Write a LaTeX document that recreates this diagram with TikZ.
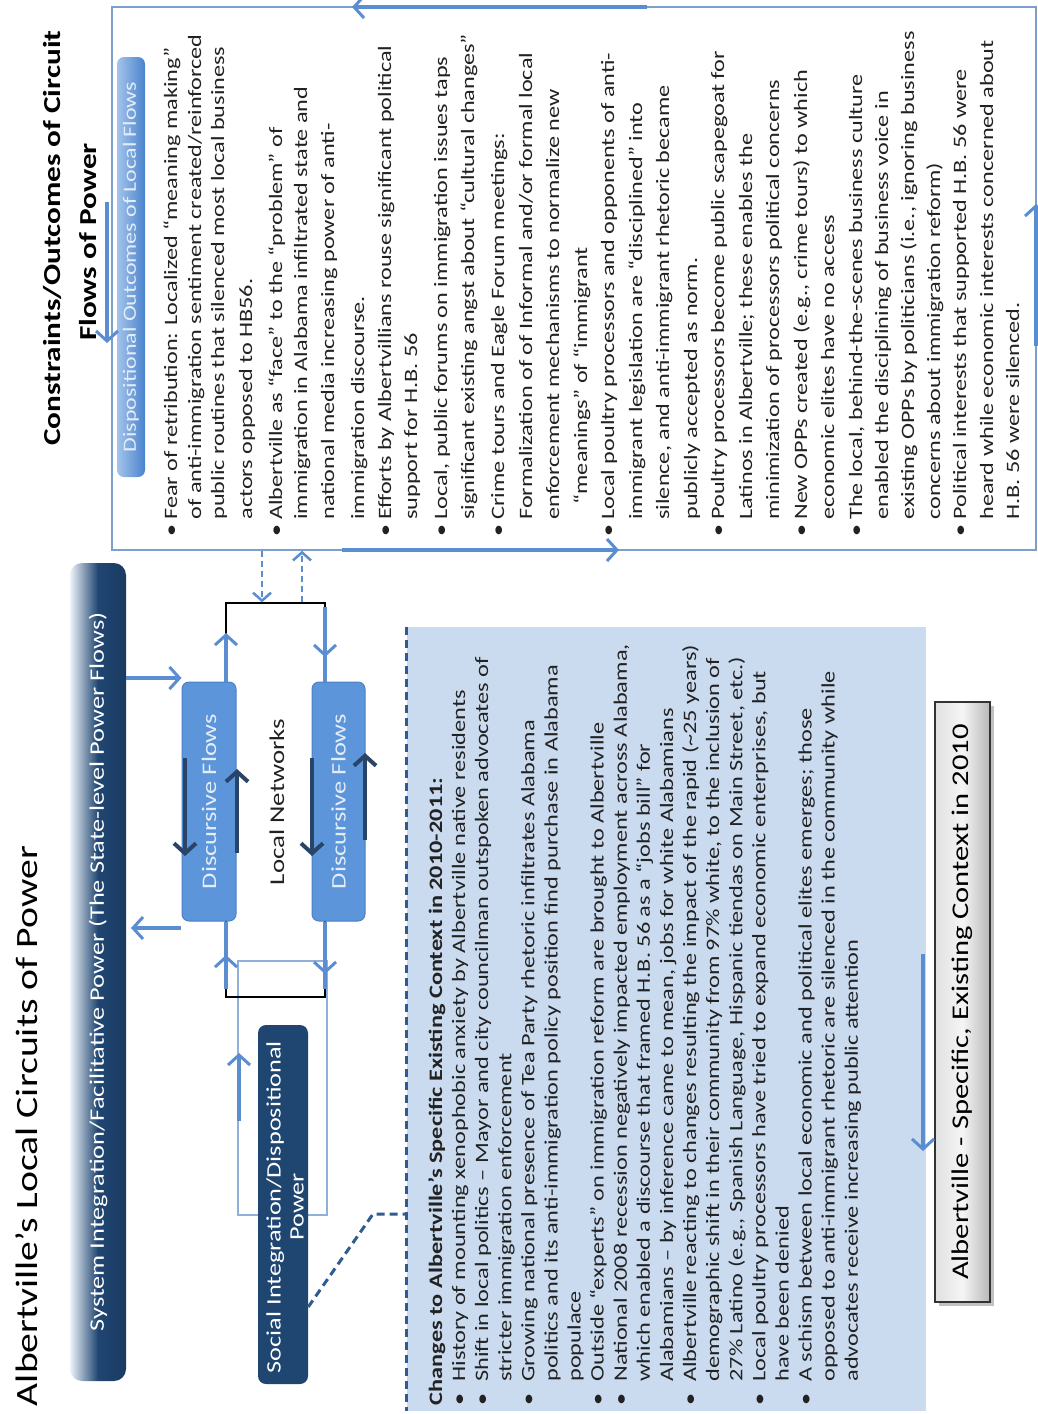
\documentclass[tikz,border=0pt]{standalone}
\usepackage{fontspec}
\setmainfont{Carlito}[FakeStretch=1.28]
\usetikzlibrary{arrows.meta}
\definecolor{flowblue}{HTML}{5B8ED1}
\definecolor{navyarrow}{HTML}{2A4468}
\definecolor{navy}{HTML}{1F4671}
\definecolor{navydark}{HTML}{1A3A62}
\definecolor{barlight}{HTML}{EEF3F9}
\definecolor{boxblue}{HTML}{CADBF0}
\definecolor{dashnavy}{HTML}{2F5C8F}
\definecolor{boxline}{HTML}{7C9FCC}
\definecolor{dffill}{HTML}{5C95D9}
\definecolor{dfdraw}{HTML}{4C81C6}
\definecolor{dftext}{HTML}{E3EDFA}
\definecolor{textdark}{HTML}{222222}
\definecolor{thinline}{HTML}{8FB0D8}
\definecolor{dispL}{HTML}{A4C3EB}
\definecolor{dispR}{HTML}{4A83CC}
\newcommand\RBul{\makebox[0.87em][l]{•}}
\newcommand\RInd{\hspace*{0.87em}}
\newcommand\LBul{\makebox[1.23em][l]{•}}
\newcommand\LInd{\hspace*{1.23em}}
\tikzset{
  rot/.style={rotate=90, inner sep=0pt, outer sep=0pt},
  rline/.style={rot, anchor=base west, font=\fontsize{18.9}{22}\selectfont, text=textdark},
  lline/.style={rot, anchor=base west, font=\fontsize{19}{22}\selectfont, text=textdark},
  flow/.style={draw=flowblue, line width=3.5pt, -{Straight Barb[length=10pt,width=22pt,line width=3pt]}},
  flowline/.style={draw=flowblue, line width=3.5pt},
  dflow/.style={draw=flowblue, line width=2.5pt, dash pattern=on 6pt off 4pt, -{Straight Barb[length=8pt,width=18pt,line width=2.5pt]}},
  navyflow/.style={draw=navyarrow, line width=4pt, -{Straight Barb[length=10pt,width=22pt,line width=4pt]}},
  navydash/.style={draw=dashnavy, line width=3pt, dash pattern=on 8pt off 5pt},
  dfbox/.style={draw=dfdraw, fill=dffill, line width=1pt, rounded corners=7pt, minimum width=54pt, minimum height=239pt, inner sep=0pt},
  dftxt/.style={rot, text=dftext, font=\fontsize{20.7}{22}\selectfont},
}
\begin{document}
\begin{tikzpicture}[x=1pt,y=-1pt]
\useasboundingbox (0,0) rectangle (1038,1414);
\fill[white] (0,0) rectangle (1038,1414);

% ---------- Constraints / Outcomes box ----------
\node[draw=boxline, line width=1.5pt, minimum width=924pt, minimum height=543pt, inner sep=0pt] (cons) at (574,278.5) {};
\node[rot, anchor=base, font=\bfseries\fontsize{24.4}{26}\selectfont, text=black] (ct1) at (60,238) {Constraints/Outcomes of Circuit};
\node[rot, anchor=base, font=\bfseries\fontsize{24.4}{26}\selectfont, text=black] (ct2) at (96,242) {Flows of Power};
\node[rounded corners=7pt, minimum width=28pt, minimum height=420pt, inner sep=0pt, left color=dispL, right color=dispR] (dispo) at (131,267) {};
\node[rot, text=dftext, font=\fontsize{18.7}{20}\selectfont] (dispoT) at (dispo.center) {Dispositional Outcomes of Local Flows};

% circulation arrows on the box border
\draw[flow] (647,7) -- (352,7);
\draw[flow] (107,202) -- (107,343);
\draw[flow] (342,550) -- (619,550);
\draw[flow] (1036,346) -- (1036,204);

\node[rline] (r1) at (177,536) {\RBul Fear of retribution: Localized “meaning making”};
\node[rline] (r2) at (201,536) {\RInd of anti-immigration sentiment created/reinforced};
\node[rline] (r3) at (224,536) {\RInd public routines that silenced most local business};
\node[rline] (r4) at (252,536) {\RInd actors opposed to HB56.};
\node[rline] (r5) at (282,536) {\RBul Albertville as “face” to the “problem” of};
\node[rline] (r6) at (307,536) {\RInd immigration in Alabama infiltrated state and};
\node[rline] (r7) at (334,536) {\RInd national media increasing power of anti-};
\node[rline] (r8) at (364,536) {\RInd immigration discourse.};
\node[rline] (r9) at (391,536) {\RBul Efforts by Albertvillians rouse significant political};
\node[rline] (r10) at (417,536) {\RInd support for H.B. 56};
\node[rline] (r11) at (447,536) {\RBul Local, public forums on immigration issues taps};
\node[rline] (r12) at (474,536) {\RInd significant existing angst about “cultural changes”};
\node[rline] (r13) at (504,536) {\RBul Crime tours and Eagle Forum meetings:};
\node[rline] (r14) at (532,536) {\RInd Formalization of of Informal and/or formal local};
\node[rline] (r15) at (559,536) {\RInd enforcement mechanisms to normalize new};
\node[rline] (r16) at (587,536) {\RInd\hspace*{0.8em}“meanings” of “immigrant};
\node[rline] (r17) at (614,536) {\RBul Local poultry processors and opponents of anti-};
\node[rline] (r18) at (642,536) {\RInd immigrant legislation are “disciplined” into};
\node[rline] (r19) at (669,536) {\RInd silence, and anti-immigrant rhetoric became};
\node[rline] (r20) at (697,536) {\RInd publicly accepted as norm.};
\node[rline] (r21) at (724,536) {\RBul Poultry processors become public scapegoat for};
\node[rline] (r22) at (752,536) {\RInd Latinos in Albertville; these enables the};
\node[rline] (r23) at (779,536) {\RInd minimization of processors political concerns};
\node[rline] (r24) at (807,536) {\RBul New OPPs created (e.g., crime tours) to which};
\node[rline] (r25) at (834,536) {\RInd economic elites have no access};
\node[rline] (r26) at (862,536) {\RBul The local, behind-the-scenes business culture};
\node[rline] (r27) at (888,536) {\RInd enabled the disciplining of business voice in};
\node[rline] (r28) at (914,536) {\RInd existing OPPs by politicians (i.e., ignoring business};
\node[rline] (r29) at (940,536) {\RInd concerns about immigration reform)};
\node[rline] (r30) at (966,536) {\RBul Political interests that supported H.B. 56 were};
\node[rline] (r31) at (993,536) {\RInd heard while economic interests concerned about};
\node[rline] (r32) at (1019,536) {\RInd H.B. 56 were silenced.};

% ---------- Left part ----------
\node[rot, anchor=base, font=\fontsize{31}{32}\selectfont, text=black] (title) at (37,1126) {Albertville’s Local Circuits of Power};
\node[rounded corners=12pt, minimum width=56pt, minimum height=818pt, inner sep=0pt, left color=barlight, right color=navydark, middle color=navy] (sys) at (98,972) {};
\node[rot, text=white, font=\fontsize{20.6}{22}\selectfont] (sysT) at (sys.center) {System Integration/Facilitative Power (The State-level Power Flows)};

% thin light rectangle and local network box
\node[draw=thinline, line width=1.2pt, minimum width=89pt, minimum height=254pt, inner sep=0pt] (thin) at (282.5,1088) {};
\node[draw=black, line width=1.3pt, minimum width=99pt, minimum height=394pt, inner sep=0pt] (lnet) at (275.5,800) {};
\node[rot, text=textdark, font=\fontsize{21}{22}\selectfont] (lnetT) at (277,802) {Local Networks};

% dashed links to constraints box
\draw[dflow] (cons.south -| 262,0) -- (lnet.north -| 262,0);
\draw[dflow] (lnet.north -| 302,0) -- (cons.south -| 302,0);

% discursive flow boxes
\node[dfbox] (dfA) at (209,801.5) {};
\node[dfbox, minimum width=53pt] (dfB) at (338.5,801.5) {};

% blue flows along local network box
\draw[flow] (dfA.north -| 226,0) -- (226,633);
\draw[flowline] (325,607) -- (dfB.north -| 325,0);
\draw[flow] (325,607) -- (325,657);
\draw[flowline] (dfA.south -| 226,0) -- (226,989);
\draw[flow] (226,989) -- (226,955);
\draw[flowline] (dfB.south -| 325,0) -- (325,989);
\draw[flow] (dfB.south -| 325,0) -- (325,974);
\draw[flow] (239,1121) -- (239,1053);

% system bar <-> discursive flows
\draw[flow] (sys.east |- 0,678) -- (dfA.west |- 0,678);
\draw[flow] (181,928) -- (131,928);

% navy arrows inside discursive boxes
\draw[navyflow] (185,758) -- (185,856);
\draw[navyflow] (237,853) -- (237,769);
\draw[navyflow] (312,758) -- (312,856);
\draw[navyflow] (365,840) -- (365,753);

\node[dftxt] (dfAT) at (dfA.center) {Discursive Flows};
\node[dftxt] (dfBT) at (dfB.center) {Discursive Flows};

% social integration box
\node[fill=navy, rounded corners=8pt, minimum width=50pt, minimum height=359pt, inner sep=0pt] (soc) at (283,1204.5) {};
\node[rot, text=white, align=center, font=\fontsize{20.5}{23}\selectfont] (socT) at (285,1207) {Social Integration/Dispositional\\Power};

% context text box
\node[fill=boxblue, minimum width=519pt, minimum height=784pt, inner sep=0pt] (ctx) at (666.5,1019) {};
\draw[navydash] (ctx.north west) -- (ctx.south west);
\draw[navydash] (soc.east |- 0,1307) -- (373,1214) -- (ctx.west |- 0,1214);

\node[lline] (l1) at (442.0,1405) {\bfseries Changes to Albertville’s Specific Existing Context in 2010-2011:};
\node[lline] (l2) at (465.1,1405) {\LBul History of mounting xenophobic anxiety by Albertville native residents};
\node[lline] (l3) at (488.2,1405) {\LBul Shift in local politics – Mayor and city councilman outspoken advocates of};
\node[lline] (l4) at (511.3,1405) {\LInd stricter immigration enforcement};
\node[lline] (l5) at (534.4,1405) {\LBul Growing national presence of Tea Party rhetoric infiltrates Alabama};
\node[lline] (l6) at (557.5,1405) {\LInd politics and its anti-immigration policy position find purchase in Alabama};
\node[lline] (l7) at (580.6,1405) {\LInd populace};
\node[lline] (l8) at (603.7,1405) {\LBul Outside “experts” on immigration reform are brought to Albertville};
\node[lline] (l9) at (626.8,1405) {\LBul National 2008 recession negatively impacted employment across Alabama,};
\node[lline] (l10) at (649.9,1405) {\LInd which enabled a discourse that framed H.B. 56 as a “jobs bill” for};
\node[lline] (l11) at (673.0,1405) {\LInd Alabamians – by inference came to mean, jobs for white Alabamians};
\node[lline] (l12) at (696.1,1405) {\LBul Albertville reacting to changes resulting the impact of the rapid (\textasciitilde 25 years)};
\node[lline] (l13) at (719.2,1405) {\LInd demographic shift in their community from 97\% white, to the inclusion of};
\node[lline] (l14) at (742.3,1405) {\LInd 27\% Latino (e.g., Spanish Language, Hispanic tiendas on Main Street, etc.)};
\node[lline] (l15) at (765.4,1405) {\LBul Local poultry processors have tried to expand economic enterprises, but};
\node[lline] (l16) at (788.5,1405) {\LInd have been denied};
\node[lline] (l17) at (811.6,1405) {\LBul A schism between local economic and political elites emerges; those};
\node[lline] (l18) at (834.7,1405) {\LInd opposed to anti-immigrant rhetoric are silenced in the community while};
\node[lline] (l19) at (857.8,1405) {\LInd advocates receive increasing public attention};

% Albertville existing context box
\fill[black!40, opacity=0.6] (939,706) rectangle (994,1306);
\node[draw=black!80, line width=1.5pt, minimum width=55pt, minimum height=600pt, inner sep=0pt, left color=black!12, right color=black!28, middle color=black!4] (alb) at (962.5,1002) {};
\node[rot, text=black, font=\fontsize{23.9}{25}\selectfont] (albT) at (alb.center) {Albertville - Specific, Existing Context in 2010};
\draw[flow] (923,954) -- (923,1151);
\end{tikzpicture}
\end{document}
